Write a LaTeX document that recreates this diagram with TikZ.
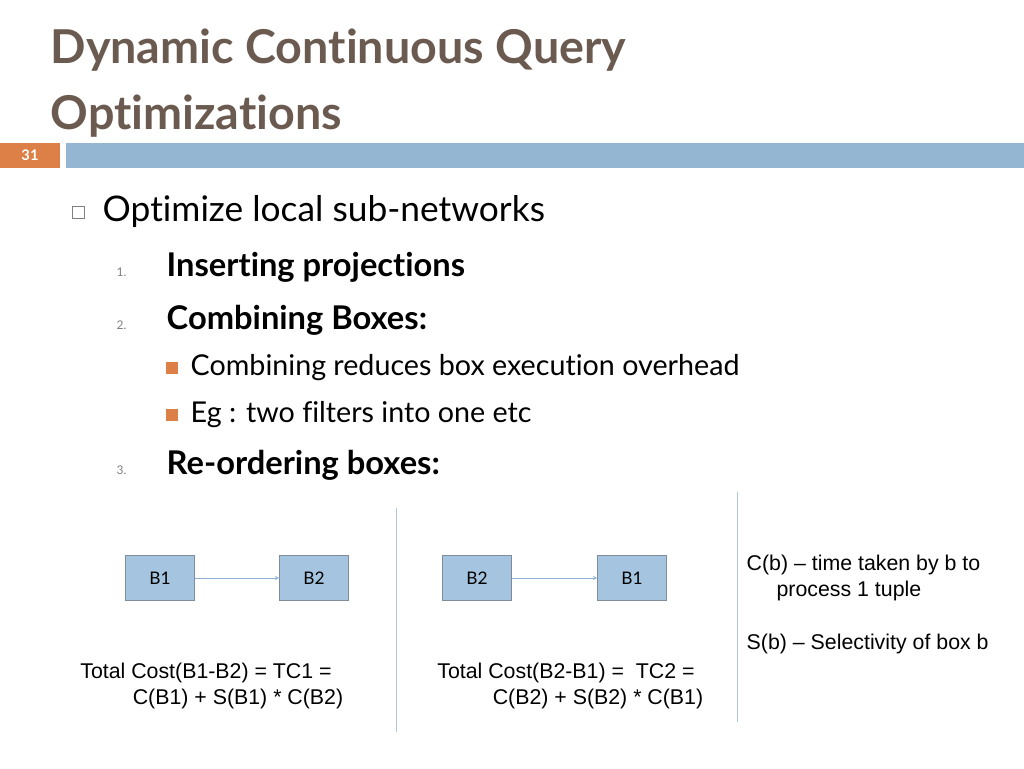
\documentclass[tikz,border=0pt]{standalone}
\usepackage{fontspec}
\setmainfont[Ligatures={TeX,NoCommon}]{Lato}
\newfontfamily\arialfont{Liberation Sans}
\usetikzlibrary{positioning}
\definecolor{titlecolor}{HTML}{6B5A50}
\definecolor{barblue}{HTML}{94B6D2}
\definecolor{barorange}{HTML}{DD8047}
\definecolor{boxfill}{HTML}{A5C4E0}
\definecolor{boxline}{HTML}{7F8C99}
\definecolor{arrowblue}{HTML}{8DB3D8}
\definecolor{seplinecolor}{HTML}{B0C6D8}
\begin{document}
\begin{tikzpicture}
    [
      x=0.75pt, y=-0.75pt,
      % Styles
      opbox/.style={draw=boxline, fill=boxfill, minimum width=52pt, minimum height=34pt, font=\fontsize{13}{15}\selectfont},
      flow/.style={->, draw=arrowblue, >=stealth},
      costtext/.style={font=\arialfont\fontsize{16}{19.5}\selectfont, align=center},
      level one/.style={anchor=west, font=\fontsize{26.5}{30}\selectfont},
      level two/.style={anchor=west, font=\bfseries\fontsize{24.5}{28}\selectfont},
      level three/.style={anchor=west, font=\fontsize{21.5}{25}\selectfont},
      numlabel/.style={anchor=west, font=\fontsize{9}{10}\selectfont, text=gray}
    ]
    \useasboundingbox (0,0) rectangle (1024,768);

    % Title and bar
    \node [anchor=west, text=titlecolor, font=\bfseries\fontsize{35}{38}\selectfont] (title1) at (46,50) {Dynamic Continuous Query};
    \node [anchor=west, text=titlecolor, font=\bfseries\fontsize{35}{38}\selectfont] (title2) at (46,116) {Optimizations};
    \fill [barorange] (0,143) rectangle (60,168);
    \fill [barblue] (66,143) rectangle (1024,168);
    \node [text=white, font=\bfseries\fontsize{11}{12}\selectfont] (pagenum) at (30,155) {31};

    % Bullets
    \draw [gray] (72,206) rectangle (84,218);
    \node [level one] (opt) at (98,212) {Optimize local sub-networks};
    \foreach \y/\n/\txt in {267/1./Inserting projections, 320/2./Combining Boxes:, 465/3./Re-ordering boxes:}
    {
      \node [numlabel] at (112,\y+5) {\n};
      \node [level two] at (162,\y) {\txt};
    }
    \foreach \y/\txt in {368/Combining reduces box execution overhead, 415/Eg : two filters into one etc}
    {
      \fill [barorange] (166,\y-6) rectangle (178,\y+6);
      \node [level three] at (186,\y) {\txt};
    }

    % Separators
    \draw [seplinecolor] (396,508) -- (396,732);
    \draw [seplinecolor] (737,492) -- (737,722);

    % First plan
    \node [opbox] (b1a) at (160,578) {B1};
    \node [opbox] (b2a) at (314,578) {B2};
    \draw [flow] (b1a) -- (b2a);
    \node [costtext] (tc1) at (206,686) {Total Cost(B1-B2) = TC1 =\\ \hspace*{3em}C(B1) + S(B1) * C(B2)};

    % Second plan
    \node [opbox] (b2b) at (477,578) {B2};
    \node [opbox] (b1b) at (632,578) {B1};
    \draw [flow] (b2b) -- (b1b);
    \node [costtext] (tc2) at (566,686) {Total Cost(B2-B1) = \ TC2 =\\ \hspace*{3em}C(B2) + S(B2) * C(B1)};

    % Legend
    \node [costtext, align=left, anchor=north west] (cdef) at (742,550) {C(b) \textendash{} time taken by b to\\ \hspace*{1.4em}process 1 tuple};
    \node [costtext, align=left, anchor=north west] (sdef) at (742,629) {S(b) \textendash{} Selectivity of box b};
\end{tikzpicture}
\end{document}
